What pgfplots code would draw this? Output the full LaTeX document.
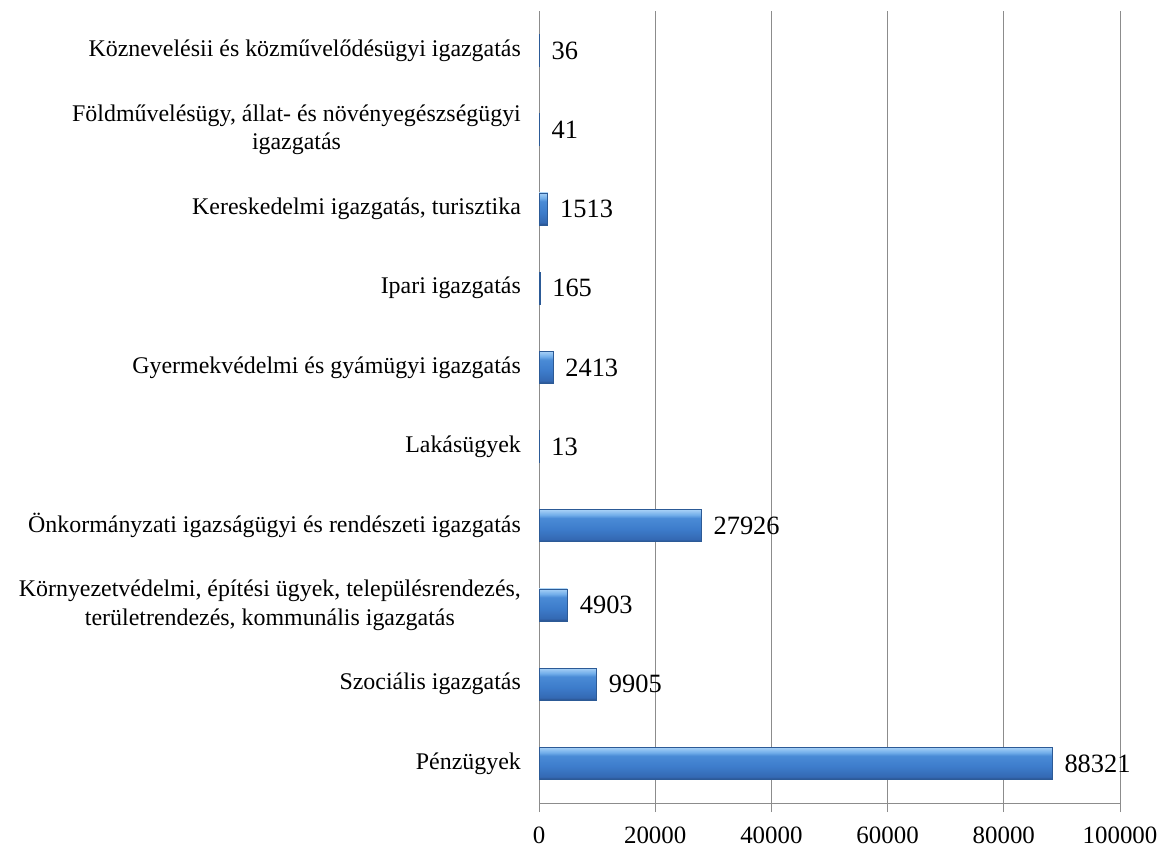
\documentclass[border=0pt]{standalone}
\usepackage{pgfplots}
\pgfplotsset{compat=1.18}
\usepackage{fontspec}
\setmainfont{Liberation Serif}
\definecolor{gridc}{HTML}{8C8C8C}
\definecolor{bartop}{HTML}{A6D0F6}
\definecolor{barlight}{HTML}{72AEEA}
\definecolor{barhi}{HTML}{4A8BD6}
\definecolor{barmid}{HTML}{3D7CCB}
\definecolor{barlow}{HTML}{3469B3}
\definecolor{barbot}{HTML}{284F88}
\definecolor{baredge}{HTML}{2C5A96}
\pgfdeclareverticalshading{barshade}{100bp}{%
  color(0bp)=(barbot); color(25bp)=(barbot); color(29bp)=(barlow);
  color(45bp)=(barmid); color(62bp)=(barhi); color(67bp)=(barlight);
  color(75bp)=(bartop); color(100bp)=(bartop)}
\pgfplotsset{mybar/.style={xbar, bar shift=0pt, draw=baredge, line width=0.8bp,
  shading=barshade}}
\begin{document}
\fontsize{24}{29}\selectfont
\begin{tikzpicture}
\useasboundingbox (0,0) rectangle (1168bp,849bp);
\begin{axis}[
  at={(539bp,46bp)}, anchor=south west,
  scale only axis,
  width=581bp, height=792bp,
  xmin=0, xmax=100000,
  ymin=-0.5, ymax=9.5,
  axis x line*=bottom, axis y line*=left,
  axis line style={gridc, line width=1bp},
  xtick={0,20000,40000,60000,80000,100000},
  xticklabels={0,20000,40000,60000,80000,100000},
  scaled x ticks=false,
  xmajorgrids, major grid style={gridc, line width=1bp},
  tick align=outside,
  major tick length=9bp,
  x tick style={gridc, line width=1bp},
  ytick={0,...,9},
  y tick style={draw=none},
  minor ytick={-0.5,0.5,...,9.5},
  minor tick length=7bp,
  minor y tick style={gridc, line width=1bp},
  yticklabels={
    Pénzügyek,
    Szociális igazgatás,
    {Környezetvédelmi, építési ügyek, településrendezés,\\területrendezés, kommunális igazgatás},
    Önkormányzati igazságügyi és rendészeti igazgatás,
    Lakásügyek,
    Gyermekvédelmi és gyámügyi igazgatás,
    Ipari igazgatás,
    {Kereskedelmi igazgatás, turisztika},
    {Földművelésügy, állat- és növényegészségügyi\\igazgatás},
    Köznevelésii és közművelődésügyi igazgatás},
  yticklabel style={align=center, font=\fontsize{24}{29}\selectfont, xshift=-1bp},
  xticklabel style={font=\fontsize{25}{29}\selectfont, yshift=-7bp},
  /pgf/number format/assume math mode=true,
  bar width=32bp,
  nodes near coords,
  nodes near coords style={font=\fontsize{26.5}{29}\selectfont, anchor=west, xshift=4bp, text=black},
  point meta=explicit symbolic,
]
\addplot[mybar] coordinates {(88321,0) [88321]};
\addplot[mybar] coordinates {(9905,1) [9905]};
\addplot[mybar] coordinates {(4903,2) [4903]};
\addplot[mybar] coordinates {(27926,3) [27926]};
\addplot[mybar] coordinates {(13,4) [13]};
\addplot[mybar] coordinates {(2413,5) [2413]};
\addplot[mybar] coordinates {(165,6) [165]};
\addplot[mybar] coordinates {(1513,7) [1513]};
\addplot[mybar] coordinates {(41,8) [41]};
\addplot[mybar] coordinates {(36,9) [36]};
\end{axis}
\end{tikzpicture}
\end{document}
